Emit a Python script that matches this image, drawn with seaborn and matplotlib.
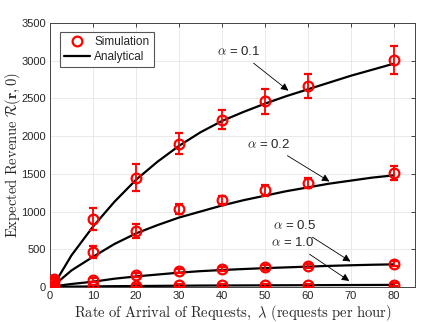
import numpy as np
import pandas as pd
import matplotlib
matplotlib.use("Agg")
import matplotlib.pyplot as plt
import seaborn as sns

# ------------------ Data ------------------
alphas = ["0.1", "0.2", "0.5", "1.0"]

lam_sim = [1, 10, 20, 30, 40, 50, 60, 80]
sim_01 = [100, 900, 1450, 1900, 2220, 2460, 2660, 3010]
err_01 = [30, 150, 180, 140, 130, 170, 160, 190]
sim_02 = [75, 470, 740, 1030, 1150, 1280, 1380, 1510]
err_02 = [25, 80, 90, 65, 50, 70, 70, 90]
sim_05 = [30, 95, 160, 210, 240, 260, 280, 310]
err_05 = [20, 30, 30, 30, 30, 30, 30, 30]
sim_10 = [5, 10, 15, 20, 20, 22, 25, 30]
err_10 = [15, 20, 20, 20, 20, 20, 20, 20]

lam_ana = [1, 5, 10, 15, 20, 25, 30, 35, 40, 45, 50, 55, 60, 65, 70, 75, 80]
ana_01 = [40, 420, 800, 1130, 1420, 1660, 1870, 2050, 2200, 2320, 2430, 2530, 2620, 2710, 2800, 2880, 2960]
ana_02 = [25, 220, 400, 570, 710, 820, 920, 1000, 1080, 1150, 1210, 1270, 1320, 1370, 1410, 1450, 1480]
ana_05 = [10, 40, 70, 110, 140, 165, 190, 210, 225, 238, 250, 260, 270, 280, 288, 295, 300]
ana_10 = [2, 5, 8, 11, 13, 15, 17, 19, 20, 21, 22, 23, 24, 25, 26, 27, 28]

sims = [(sim_01, err_01), (sim_02, err_02), (sim_05, err_05), (sim_10, err_10)]
anas = [ana_01, ana_02, ana_05, ana_10]

df_ana = pd.concat([
    pd.DataFrame({"lam": lam_ana, "rev": vals, "alpha": a})
    for a, vals in zip(alphas, anas)
])

# ------------------ Plot ------------------
sns.set_style("whitegrid")
plt.rcParams["mathtext.fontset"] = "cm"
plt.rcParams["font.family"] = ["Liberation Sans", "DejaVu Sans"]

fig = plt.figure(figsize=(4.29, 3.22), dpi=100)
ax = fig.add_axes([0.1166, 0.1087, 0.851, 0.8199])

sns.lineplot(data=df_ana, x="lam", y="rev", hue="alpha",
             palette=["black"] * 4, linewidth=1.6, legend=False, ax=ax)

for (vals, errs) in sims:
    ax.errorbar(lam_sim, vals, yerr=errs, fmt="o", color="red",
                mfc="none", mec="red", ms=7, mew=1.6,
                elinewidth=1.3, capsize=3, capthick=1.3, zorder=3)

# legend handles
h_sim, = ax.plot([], [], "o", color="red", mfc="none", ms=7, mew=1.6)
h_ana, = ax.plot([], [], "-", color="black", lw=1.6)
leg = ax.legend([h_sim, h_ana], ["Simulation", "Analytical"], loc="upper left",
                fontsize=8.5, fancybox=False, framealpha=1, edgecolor="#555555",
                borderpad=0.35, handlelength=2.2, handletextpad=0.4,
                labelspacing=0.3, bbox_to_anchor=(0.01, 0.99))
leg.get_frame().set_linewidth(0.8)

# annotations
arrow = dict(arrowstyle="-|>", color="black", lw=0.6, mutation_scale=11)
ann_fs = 9.5
ax.annotate(r"$\alpha$ = 0.1", xy=(56, 2580), xytext=(44, 3120),
            ha="center", va="center", fontsize=ann_fs, arrowprops=arrow)
ax.annotate(r"$\alpha$ = 0.2", xy=(65.6, 1380), xytext=(51, 1890),
            ha="center", va="center", fontsize=ann_fs, arrowprops=arrow)
ax.annotate(r"$\alpha$ = 0.5", xy=(70.5, 318), xytext=(57, 810),
            ha="center", va="center", fontsize=ann_fs, arrowprops=arrow)
ax.annotate(r"$\alpha$ = 1.0", xy=(70.2, 60), xytext=(56.5, 585),
            ha="center", va="center", fontsize=ann_fs, arrowprops=arrow)

ax.set_xlim(0, 85)
ax.set_ylim(0, 3500)
ax.set_xticks(np.arange(0, 81, 10))
ax.set_yticks(np.arange(0, 3501, 500))
ax.tick_params(direction="in", top=True, right=True, length=3, width=0.6,
               labelsize=8, colors="#262626", pad=3)
ax.grid(True, color="#e6e6e6", linewidth=0.6)
for s in ax.spines.values():
    s.set_color("#444444")
    s.set_linewidth(0.7)

ax.set_xlabel(r"$\mathrm{Rate\ of\ Arrival\ of\ Requests,\ }\lambda\mathrm{\ (requests\ per\ hour)}$",
              fontsize=10.5, color="#262626")
ax.set_ylabel(r"$\mathrm{Expected\ Revenue\ }\mathcal{R}(\mathbf{r},0)$",
              fontsize=10.5, color="#262626")
ax.xaxis.set_label_coords(0.5, -0.098)
ax.yaxis.set_label_coords(-0.101, 0.5)
ax.xaxis.label.set_va("center")
ax.yaxis.label.set_va("center")

fig.savefig("out.png", dpi=100)
plt.close(fig)
